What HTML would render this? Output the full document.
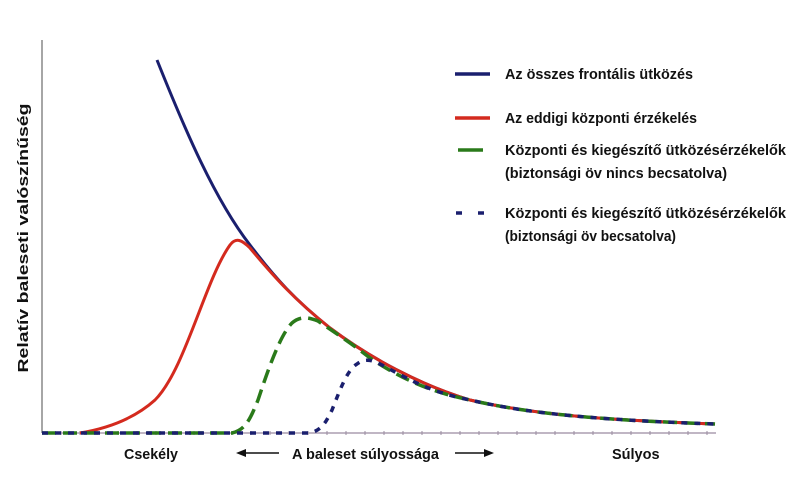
<!DOCTYPE html>
<html><head><meta charset="utf-8"><style>
html,body{margin:0;padding:0;background:#fff;}
svg{display:block;}
text{font-family:"Liberation Sans",sans-serif;font-weight:bold;fill:#111;}
</style></head><body>
<svg width="798" height="485" viewBox="0 0 798 485">
<line x1="42" y1="40" x2="42" y2="433" stroke="#888" stroke-width="1.5"/>
<line x1="42" y1="433" x2="716" y2="433" stroke="#9a8ba0" stroke-width="1.2"/>
<g stroke="#9a8ba0" stroke-width="1">
<line x1="61" y1="431" x2="61" y2="435"/><line x1="80" y1="431" x2="80" y2="435"/><line x1="99" y1="431" x2="99" y2="435"/><line x1="118" y1="431" x2="118" y2="435"/><line x1="137" y1="431" x2="137" y2="435"/><line x1="156" y1="431" x2="156" y2="435"/><line x1="175" y1="431" x2="175" y2="435"/><line x1="194" y1="431" x2="194" y2="435"/><line x1="213" y1="431" x2="213" y2="435"/><line x1="232" y1="431" x2="232" y2="435"/><line x1="251" y1="431" x2="251" y2="435"/><line x1="270" y1="431" x2="270" y2="435"/><line x1="289" y1="431" x2="289" y2="435"/><line x1="308" y1="431" x2="308" y2="435"/><line x1="327" y1="431" x2="327" y2="435"/><line x1="346" y1="431" x2="346" y2="435"/><line x1="365" y1="431" x2="365" y2="435"/><line x1="384" y1="431" x2="384" y2="435"/><line x1="403" y1="431" x2="403" y2="435"/><line x1="422" y1="431" x2="422" y2="435"/><line x1="441" y1="431" x2="441" y2="435"/><line x1="460" y1="431" x2="460" y2="435"/><line x1="479" y1="431" x2="479" y2="435"/><line x1="498" y1="431" x2="498" y2="435"/><line x1="517" y1="431" x2="517" y2="435"/><line x1="536" y1="431" x2="536" y2="435"/><line x1="555" y1="431" x2="555" y2="435"/><line x1="574" y1="431" x2="574" y2="435"/><line x1="593" y1="431" x2="593" y2="435"/><line x1="612" y1="431" x2="612" y2="435"/><line x1="631" y1="431" x2="631" y2="435"/><line x1="650" y1="431" x2="650" y2="435"/><line x1="669" y1="431" x2="669" y2="435"/><line x1="688" y1="431" x2="688" y2="435"/><line x1="707" y1="431" x2="707" y2="435"/>
</g>
<path d="M157,60 C185,130 215,200 250,245 C275,278 295,300 330,328 C370,358 420,385 470,400 C530,414 600,420 715,424" fill="none" stroke="#1a1f6e" stroke-width="3"/>
<path d="M80,433 C110,428 135,418 155,400 C185,370 205,280 230,245 C236,237 242,240 250,248 C275,278 295,300 330,328 C370,358 420,385 470,400 C530,414 600,420 715,424" fill="none" stroke="#d42a1e" stroke-width="3"/>
<path d="M42,433 L232,433 C245,430 250,420 258,400 C268,370 280,335 292,323 C300,316 308,317 318,321 C340,336 355,346 370,358 C400,378 430,392 470,400 C530,414 600,420 715,424" fill="none" stroke="#2a7a1a" stroke-width="3.5" stroke-dasharray="14,7"/>
<path d="M42,433 L310,433 C322,430 326,422 332,410 C340,390 347,370 357,364 C365,358 372,360 380,364 C410,380 430,392 470,400 C530,414 600,420 715,424" fill="none" stroke="#1a1f6e" stroke-width="3.5" stroke-dasharray="6,7"/>
<line x1="455" y1="74" x2="490" y2="74" stroke="#1a1f6e" stroke-width="3.5"/>
<line x1="455" y1="118" x2="490" y2="118" stroke="#d42a1e" stroke-width="3.5"/>
<line x1="458" y1="150" x2="483" y2="150" stroke="#2a7a1a" stroke-width="3.5"/>
<line x1="456" y1="213" x2="462" y2="213" stroke="#1a1f6e" stroke-width="3.5"/>
<line x1="478" y1="213" x2="484" y2="213" stroke="#1a1f6e" stroke-width="3.5"/>
<g font-size="14.5">
<text x="505" y="79" textLength="188" lengthAdjust="spacingAndGlyphs">Az összes frontális ütközés</text>
<text x="505" y="123" textLength="192" lengthAdjust="spacingAndGlyphs">Az eddigi központi érzékelés</text>
<text x="505" y="155" textLength="281" lengthAdjust="spacingAndGlyphs">Központi és kiegészítő ütközésérzékelők</text>
<text x="505" y="178" textLength="222" lengthAdjust="spacingAndGlyphs">(biztonsági öv nincs becsatolva)</text>
<text x="505" y="218" textLength="281" lengthAdjust="spacingAndGlyphs">Központi és kiegészítő ütközésérzékelők</text>
<text x="505" y="241" textLength="171" lengthAdjust="spacingAndGlyphs">(biztonsági öv becsatolva)</text>
</g>
<text x="0" y="0" font-size="15" text-anchor="middle" textLength="269" lengthAdjust="spacingAndGlyphs" transform="translate(28,238) rotate(-90)">Relatív baleseti valószínűség</text>
<g font-size="14.5">
<text x="124" y="459" textLength="54" lengthAdjust="spacingAndGlyphs">Csekély</text>
<text x="292" y="459">A baleset súlyossága</text>
<text x="612" y="459">Súlyos</text>
</g>
<line x1="244" y1="453" x2="279" y2="453" stroke="#111" stroke-width="1.5"/>
<polygon points="236,453 246,449 246,457" fill="#111"/>
<line x1="455" y1="453" x2="486" y2="453" stroke="#111" stroke-width="1.5"/>
<polygon points="494,453 484,449 484,457" fill="#111"/>
</svg>
</body></html>
